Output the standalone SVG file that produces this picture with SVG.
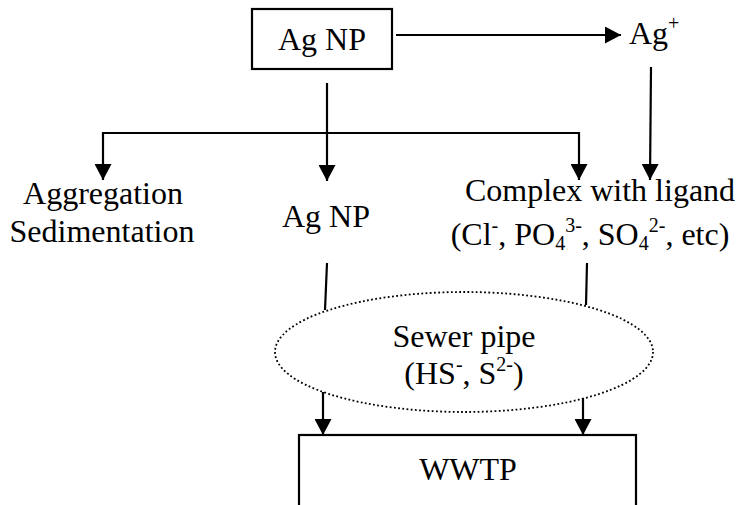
<svg xmlns="http://www.w3.org/2000/svg" width="738" height="505" viewBox="0 0 738 505">
<style>
text{font-family:"Liberation Serif","Times New Roman","DejaVu Serif",serif;font-size:32px;fill:#000}
.sup{font-size:20px}
.sub{font-size:20px}
.ln{stroke:#000;stroke-width:2.2;fill:none}
.box{stroke:#000;stroke-width:2.2;fill:#fff}
</style>
<defs>
<marker id="ah" markerUnits="userSpaceOnUse" markerWidth="17" markerHeight="17" viewBox="0 0 17 17" refX="16" refY="8.5" orient="auto">
<path d="M0,0 L16,8.5 L0,17 Z" fill="#000"/>
</marker>
</defs>
<g id="connectors">
<line class="ln" x1="396" y1="35" x2="621" y2="35" marker-end="url(#ah)"/>
<line class="ln" x1="327" y1="83" x2="327" y2="181" marker-end="url(#ah)"/>
<polyline class="ln" points="103,175 103,133 579,133 579,175"/>
<line class="ln" x1="103" y1="165" x2="103" y2="180" marker-end="url(#ah)"/>
<line class="ln" x1="579" y1="165" x2="579" y2="180" marker-end="url(#ah)"/>
<line class="ln" x1="651" y1="67" x2="650" y2="180" marker-end="url(#ah)"/>
<line class="ln" x1="327" y1="263" x2="325" y2="310"/>
<line class="ln" x1="587" y1="263" x2="586" y2="305"/>
<line class="ln" x1="323" y1="392" x2="323" y2="435" marker-end="url(#ah)"/>
<line class="ln" x1="583" y1="398" x2="583" y2="435" marker-end="url(#ah)"/>
</g>
<g id="agnp-top">
<rect class="box" x="252" y="9" width="140" height="60"/>
<text x="322" y="50" text-anchor="middle">Ag NP</text>
</g>
<g id="agplus">
<text x="629" y="44">Ag<tspan class="sup" dy="-14">+</tspan></text>
</g>
<g id="aggregation">
<text x="103" y="204" text-anchor="middle">Aggregation</text>
<text x="102" y="242" text-anchor="middle">Sedimentation</text>
</g>
<g id="agnp-mid">
<text x="326" y="227" text-anchor="middle">Ag NP</text>
</g>
<g id="complex">
<text x="600" y="201" text-anchor="middle">Complex with ligand</text>
<text x="590" y="245" text-anchor="middle">(Cl<tspan class="sup" dy="-13">-</tspan><tspan dy="13">, PO</tspan><tspan class="sub" dy="5">4</tspan><tspan class="sup" dy="-18">3-</tspan><tspan dy="13">, SO</tspan><tspan class="sub" dy="5">4</tspan><tspan class="sup" dy="-18">2-</tspan><tspan dy="13">, etc)</tspan></text>
</g>
<g id="sewer">
<ellipse cx="464" cy="352" rx="189" ry="60" fill="none" stroke="#000" stroke-width="1.8" stroke-dasharray="1.8 2.4"/>
<text x="464" y="347" text-anchor="middle">Sewer pipe</text>
<text x="464" y="384" text-anchor="middle">(HS<tspan class="sup" dy="-13">-</tspan><tspan dy="13">, S</tspan><tspan class="sup" dy="-13">2-</tspan><tspan dy="13">)</tspan></text>
</g>
<g id="wwtp">
<rect class="box" x="299" y="435" width="337" height="100"/>
<text x="468" y="480" text-anchor="middle">WWTP</text>
</g>
</svg>
